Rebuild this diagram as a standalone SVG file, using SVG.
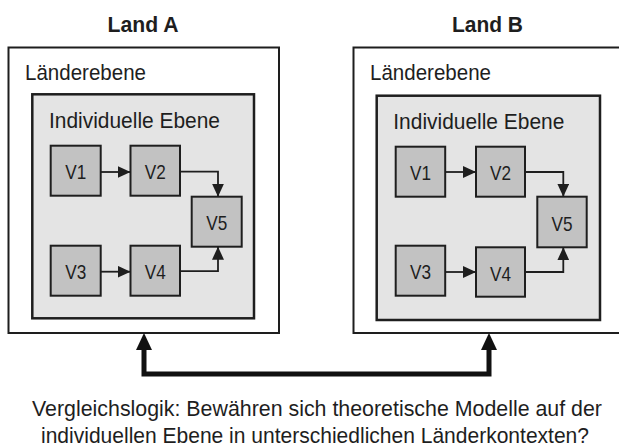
<svg xmlns="http://www.w3.org/2000/svg" width="619" height="448" viewBox="0 0 619 448">
  <style>
    .t { font-family: "Liberation Sans", Arial, sans-serif; fill: #1e1e1e; }
    .title { font-size: 22px; font-weight: bold; text-anchor: middle; }
    .lbl { font-size: 22px; }
    .v { font-size: 21px; text-anchor: middle; }
    .cap { font-size: 21.3px; text-anchor: middle; }
    .outer { fill: #ffffff; stroke: #1e1e1e; stroke-width: 2; }
    .inner { fill: #e4e4e4; stroke: #1e1e1e; stroke-width: 2.5; }
    .node { fill: #c2c2c2; stroke: #1e1e1e; stroke-width: 2; }
    .conn { fill: none; stroke: #1e1e1e; stroke-width: 1.8; }
    .big { fill: none; stroke: #111111; stroke-width: 5; }
  </style>
  <defs>
    <marker id="ah" markerUnits="userSpaceOnUse" viewBox="0 0 13 12" markerWidth="13" markerHeight="12" refX="13" refY="6" orient="auto">
      <path d="M0,0 L13,6 L0,12 Z" fill="#1e1e1e"/>
    </marker>
    <marker id="bigah" markerUnits="userSpaceOnUse" viewBox="0 0 17 16" markerWidth="17" markerHeight="16" refX="0" refY="8" orient="auto-start-reverse">
      <path d="M0,0 L17,8 L0,16 Z" fill="#111111"/>
    </marker>
  </defs>
  <rect width="619" height="448" fill="#ffffff"/>

  <!-- Land A -->
  <g id="landA">
    <text class="t title" x="143" y="32" textLength="71" lengthAdjust="spacingAndGlyphs">Land A</text>
    <rect class="outer" x="8.5" y="47.5" width="270.5" height="285.5"/>
    <text class="t lbl" x="25" y="80" textLength="121" lengthAdjust="spacingAndGlyphs">Länderebene</text>
  </g>
  <g id="individualA">
    <rect class="inner" x="32.3" y="94.3" width="221.7" height="224"/>
    <text class="t lbl" x="49" y="128" textLength="171" lengthAdjust="spacingAndGlyphs">Individuelle Ebene</text>
  </g>
  <g id="A_V1"><rect class="node" x="50.7" y="145.7" width="50" height="50"/><text class="t v" x="75.7" y="179" textLength="21" lengthAdjust="spacingAndGlyphs">V1</text></g>
  <g id="A_V2"><rect class="node" x="130.5" y="145.7" width="49.5" height="50"/><text class="t v" x="155.2" y="179" textLength="21" lengthAdjust="spacingAndGlyphs">V2</text></g>
  <g id="A_V5"><rect class="node" x="191.7" y="196.7" width="50" height="50"/><text class="t v" x="216.7" y="230" textLength="21" lengthAdjust="spacingAndGlyphs">V5</text></g>
  <g id="A_V3"><rect class="node" x="50.7" y="245.7" width="50" height="50"/><text class="t v" x="75.7" y="279" textLength="21" lengthAdjust="spacingAndGlyphs">V3</text></g>
  <g id="A_V4"><rect class="node" x="130.5" y="245.7" width="49.5" height="50"/><text class="t v" x="155.2" y="279" textLength="21" lengthAdjust="spacingAndGlyphs">V4</text></g>

  <!-- Land B -->
  <g id="landB">
    <text class="t title" x="487.5" y="32" textLength="71" lengthAdjust="spacingAndGlyphs">Land B</text>
    <rect class="outer" x="353.5" y="47.5" width="268" height="285.5"/>
    <text class="t lbl" x="370" y="80" textLength="121" lengthAdjust="spacingAndGlyphs">Länderebene</text>
  </g>
  <g id="individualB">
    <rect class="inner" x="376.7" y="95.7" width="223.3" height="224.3"/>
    <text class="t lbl" x="393.3" y="129" textLength="171" lengthAdjust="spacingAndGlyphs">Individuelle Ebene</text>
  </g>
  <g id="B_V1"><rect class="node" x="395.7" y="146.7" width="49.5" height="50"/><text class="t v" x="420.5" y="180" textLength="21" lengthAdjust="spacingAndGlyphs">V1</text></g>
  <g id="B_V2"><rect class="node" x="476" y="146.7" width="49" height="50"/><text class="t v" x="500.5" y="180" textLength="21" lengthAdjust="spacingAndGlyphs">V2</text></g>
  <g id="B_V5"><rect class="node" x="537.3" y="196.7" width="49.4" height="50.6"/><text class="t v" x="562" y="230.5" textLength="21" lengthAdjust="spacingAndGlyphs">V5</text></g>
  <g id="B_V3"><rect class="node" x="395.7" y="245.7" width="49.5" height="50"/><text class="t v" x="420.5" y="279" textLength="21" lengthAdjust="spacingAndGlyphs">V3</text></g>
  <g id="B_V4"><rect class="node" x="476" y="247.3" width="49" height="49.4"/><text class="t v" x="500.5" y="280.5" textLength="21" lengthAdjust="spacingAndGlyphs">V4</text></g>

  <!-- Connectors -->
  <g id="connectors">
    <path class="conn" d="M100.7,172 H130.5" marker-end="url(#ah)"/>
    <path class="conn" d="M180,171.7 H218 V196.7" marker-end="url(#ah)"/>
    <path class="conn" d="M100.7,271.7 H130.5" marker-end="url(#ah)"/>
    <path class="conn" d="M180,271.2 H218 V246.7" marker-end="url(#ah)"/>

    <path class="conn" d="M445.2,172 H476" marker-end="url(#ah)"/>
    <path class="conn" d="M525,172 H563.3 V196.7" marker-end="url(#ah)"/>
    <path class="conn" d="M445.2,272 H476" marker-end="url(#ah)"/>
    <path class="conn" d="M525,272 H563.3 V247.3" marker-end="url(#ah)"/>

    <path class="big" d="M144,350 V374 H489 V350" marker-start="url(#bigah)" marker-end="url(#bigah)"/>
  </g>

  <g id="caption">
    <text class="t cap" x="317" y="416" textLength="570" lengthAdjust="spacingAndGlyphs">Vergleichslogik:  Bewähren sich theoretische Modelle auf der</text>
    <text class="t cap" x="315" y="443" textLength="548" lengthAdjust="spacingAndGlyphs">individuellen  Ebene in unterschiedlichen  Länderkontexten?</text>
  </g>
</svg>
